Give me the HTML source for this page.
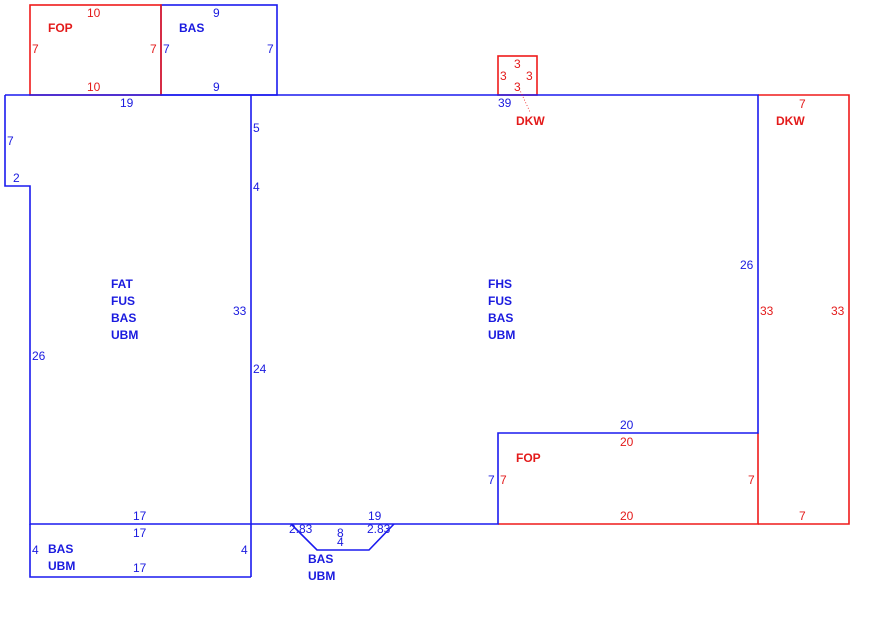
<!DOCTYPE html>
<html><head><style>
body{margin:0;background:#fff;width:895px;height:622px;overflow:hidden}
svg text{font-family:"Liberation Sans",Arial,sans-serif;font-size:12px}
.b{fill:#1a1adf}.r{fill:#e31a1a}
.L{font-weight:bold}
</style></head><body>
<svg width="895" height="622" viewBox="0 0 895 622" xmlns="http://www.w3.org/2000/svg">
<g fill="none" stroke-width="1.6">
<rect x="161" y="5" width="116" height="90" stroke="#1a1aef"/>
<rect x="30" y="5" width="131" height="90" stroke="#ef1a1a"/>
<rect x="498" y="56" width="39" height="39" stroke="#ef1a1a"/>
<polyline points="758,95 849,95 849,524 758,524" stroke="#ef1a1a"/>
<polyline points="498,524 758,524 758,433" stroke="#ef1a1a"/>
<polyline points="5,95 758,95 758,433 498,433 498,524 30,524 30,186 5,186 5,95" stroke="#1a1aef"/>
<line x1="251" y1="95" x2="251" y2="577" stroke="#1a1aef"/>
<polyline points="30,524 30,577 251,577" stroke="#1a1aef"/>
<polyline points="291,524 317,550 369,550 394,524" stroke="#1a1aef"/>
<line x1="518" y1="86" x2="530" y2="112" stroke="#ef1a1a" stroke-width="0.8" stroke-dasharray="1,2"/>
</g>
<g class="r">
<text x="87" y="17">10</text><text x="32" y="53">7</text><text x="150" y="53">7</text><text x="87" y="91">10</text>
<text x="48" y="32" class="L">FOP</text>
<text x="514" y="68">3</text><text x="500" y="80">3</text><text x="526" y="80">3</text><text x="514" y="91">3</text>
<text x="516" y="125" class="L">DKW</text>
<text x="799" y="108">7</text><text x="776" y="125" class="L">DKW</text>
<text x="760" y="315">33</text><text x="831" y="315">33</text>
<text x="620" y="446">20</text><text x="516" y="462" class="L">FOP</text>
<text x="500" y="484">7</text><text x="748" y="484">7</text>
<text x="620" y="520">20</text><text x="799" y="520">7</text>
</g>
<g class="b">
<text x="213" y="17">9</text><text x="163" y="53">7</text><text x="267" y="53">7</text><text x="213" y="91">9</text>
<text x="179" y="32" class="L">BAS</text>
<text x="120" y="107">19</text><text x="7" y="145">7</text><text x="13" y="182">2</text>
<text x="253" y="132">5</text><text x="253" y="191">4</text>
<text x="233" y="315">33</text><text x="253" y="373">24</text><text x="32" y="360">26</text>
<text x="111" y="288" class="L">FAT</text><text x="111" y="305" class="L">FUS</text><text x="111" y="322" class="L">BAS</text><text x="111" y="339" class="L">UBM</text>
<text x="488" y="288" class="L">FHS</text><text x="488" y="305" class="L">FUS</text><text x="488" y="322" class="L">BAS</text><text x="488" y="339" class="L">UBM</text>
<text x="498" y="107">39</text><text x="740" y="269">26</text>
<text x="620" y="429">20</text><text x="488" y="484">7</text>
<text x="133" y="520">17</text><text x="133" y="537">17</text><text x="133" y="572">17</text>
<text x="32" y="554">4</text><text x="241" y="554">4</text>
<text x="48" y="553" class="L">BAS</text><text x="48" y="570" class="L">UBM</text>
<text x="368" y="520">19</text><text x="289" y="533">2.83</text><text x="367" y="533">2.83</text>
<text x="337" y="537">8</text><text x="337" y="546">4</text>
<text x="308" y="563" class="L">BAS</text><text x="308" y="580" class="L">UBM</text>
</g>
</svg>
</body></html>
